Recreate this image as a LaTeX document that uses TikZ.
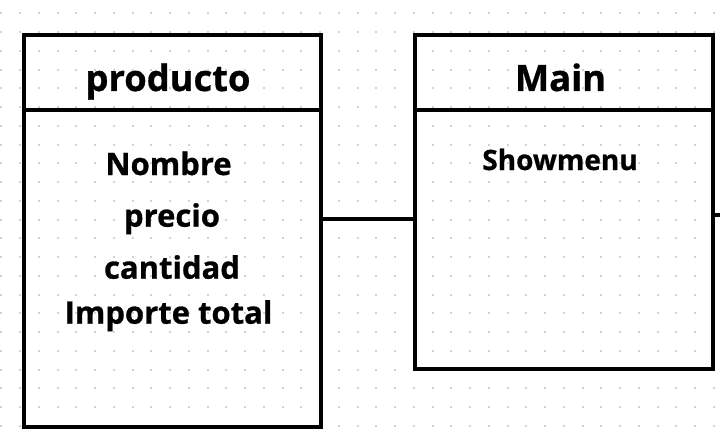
\documentclass[tikz,border=0pt]{standalone}
\usepackage{fontspec}
\setmainfont{Open Sans}[BoldFeatures={FakeBold=0.8}]
\definecolor{dotc}{RGB}{206,210,218}
\begin{document}
\begin{tikzpicture}[x=1pt,y=-1pt,
  boxline/.style={draw=black,line width=4pt,line cap=rect},
  title/.style={anchor=base,inner sep=0pt,font=\bfseries\fontsize{36.3}{40}\selectfont},
  attr/.style={anchor=base,inner sep=0pt,font=\bfseries\fontsize{31}{36}\selectfont},
  attrs/.style={anchor=base,inner sep=0pt,font=\bfseries\fontsize{28}{32}\selectfont},
  griddot/.style={fill=dotc}]
\useasboundingbox (0,0) rectangle (720,444);
\fill[white] (0,0) rectangle (720,444);
% dotted grid
\foreach \i in {0,...,38}{
  \foreach \j in {0,...,23}{
    \fill[griddot] ({1.25+18.75*\i-1},{13.3+18.75*\j-1}) rectangle ++(2,2);
  }
}
% producto box
\draw[boxline] (23.5,35) rectangle (321,427);
\draw[boxline] (23.5,109.5) -- (321,109.5);
% Main box
\draw[boxline] (415,35) rectangle (713,369);
\draw[boxline] (415,109.5) -- (713,109.5);
% connectors
\coordinate (pR) at (321,218.5);
\coordinate (mL) at (415,218.5);
\coordinate (mR) at (713,214.5);
\coordinate (edge) at (722,214.5);
\draw[line width=4pt] (pR) -- (mL);
\draw[line width=4pt] (mR) -- (edge);
% texts
\node[title] (ptitle) at (168,91) {producto};
\node[title] (mtitle) at (560.5,91) {Main};
\node[attr] (nombre) at (168.5,175) {Nombre};
\node[attr] (precio) at (172,226.7) {precio};
\node[attr] (cantidad) at (172,278.7) {cantidad};
\node[attr] (importe) at (168.5,323.7) {Importe total};
\node[attrs] (showmenu) at (560,170) {Showmenu};
\end{tikzpicture}
\end{document}
